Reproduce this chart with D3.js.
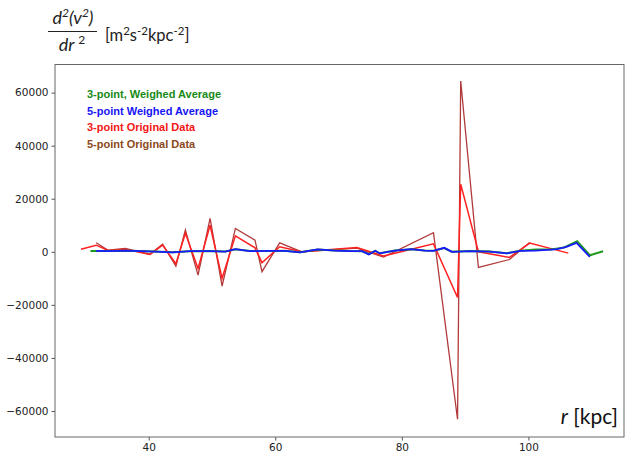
<!DOCTYPE html>
<html>
<head>
<meta charset="utf-8">
<script src="https://cdn.jsdelivr.net/npm/d3@7"></script>
<style>
  body { margin: 0; background: #fff; }
  svg { display: block; }
</style>
</head>
<body>
<script>
// r [kpc] of the original samples
var rRed = [29.3, 31.7, 33.6, 36.3, 40.2, 42.2, 44.3, 45.8, 47.8, 49.7, 51.6, 53.7, 56.8, 57.9, 60.7, 64.2, 72.9, 77.1, 85.0, 88.8, 89.3, 92.1, 97.0, 100.2, 106.3];
var redVals = [1000, 2500, 500, 1000, -1000, 2500, -4500, 7000, -6300, 10000, -10000, 6000, 1500, -4100, 1900, 0, 1600, -1600, 3000, -17200, 25500, 0, -2100, 3300, -500];

var rBrown = [31.7, 33.6, 36.3, 40.2, 42.2, 44.3, 45.8, 47.8, 49.7, 51.6, 53.7, 56.8, 57.9, 60.7, 64.2, 72.9, 77.1, 85.0, 88.8, 89.3, 92.1, 97.0, 100.2];
var brownVals = [3400, 600, 1300, -900, 2900, -5400, 8200, -8800, 12600, -12900, 8800, 4400, -7500, 3400, 0, 1400, -2000, 7200, -63100, 64400, -5900, -2900, 3500];

var rBlue = [31.7, 33.9, 36.3, 38.6, 41.0, 43.8, 46.5, 49.7, 52.1, 53.7, 56.0, 59.2, 61.5, 63.9, 66.7, 69.4, 71.8, 73.7, 74.8, 75.8, 76.5, 78.9, 81.5, 83.6, 85.0, 86.7, 87.9, 90.8, 93.9, 96.6, 98.7, 101.1, 103.5, 104.5, 106.0, 107.6, 109.7];
var blueVals = [380, 260, 450, 260, 75, -230, 260, 260, 75, 1000, 260, 380, 380, -230, 900, 450, 260, 260, -980, 380, -600, 450, 1000, 450, 380, 1500, 0, 260, 75, -600, 380, 450, 800, 1000, 1900, 3400, -1900];

var rGreen = [30.8, 31.7, 33.9, 36.3, 38.6, 41.0, 43.8, 46.5, 49.7, 52.1, 53.7, 56.0, 59.2, 61.5, 63.9, 66.7, 69.4, 71.8, 73.7, 74.8, 75.8, 76.5, 78.9, 81.5, 83.6, 85.0, 86.7, 87.9, 90.8, 93.9, 96.6, 98.7, 101.1, 103.5, 105.5, 107.7, 109.7, 111.8];
var greenVals = [300, 350, 300, 400, 280, 100, -200, 250, 280, 100, 950, 280, 350, 380, -200, 850, 450, 280, 250, -900, 350, -550, 450, 950, 450, 400, 1400, 50, 280, 100, -500, 400, 900, 900, 1500, 4000, -1300, 200];

var yTicks = [-60000, -40000, -20000, 0, 20000, 40000, 60000];
var xTicks = [40, 60, 80, 100];

var legendItems = ["3-point, Weighed Average", "5-point Weighed Average", "3-point Original Data", "5-point Original Data"];
var legendColors = ["#178a17", "#1515f5", "#f51515", "#8b4a1c"];

var width = 625, height = 455;
var plot = {left: 55, right: 624, top: 64.5, bottom: 437};

var svg = d3.select("body").append("svg")
	.attr("width", width)
	.attr("height", height);

var x = d3.scaleLinear()
	.domain([25.2, 115.1])
	.range([plot.left, plot.right]);

var y = d3.scaleLinear()
	.domain([-69800, 70600])
	.range([plot.bottom, plot.top]);

function pts(rs, vs) {
	return rs.map(function(r, i) { return [r, vs[i]]; });
}

var line = d3.line()
	.x(function(d) { return x(d[0]); })
	.y(function(d) { return y(d[1]); });

var g = svg.append("g");

g.append("path").datum(pts(rBrown, brownVals))
	.attr("d", line).attr("fill", "none")
	.attr("stroke", "#b03a3a").attr("stroke-width", 1.3);
g.append("path").datum(pts(rRed, redVals))
	.attr("d", line).attr("fill", "none")
	.attr("stroke", "#ff2020").attr("stroke-width", 1.5);
g.append("path").datum(pts(rGreen, greenVals))
	.attr("d", line).attr("fill", "none")
	.attr("stroke", "#1f9a1f").attr("stroke-width", 2);
g.append("path").datum(pts(rBlue, blueVals))
	.attr("d", line).attr("fill", "none")
	.attr("stroke", "#1a1aff").attr("stroke-width", 1.8);

// axes
var xAxis = svg.append("g")
	.attr("transform", "translate(0," + plot.bottom + ")")
	.call(d3.axisBottom(x).tickValues(xTicks).tickSize(3.5).tickPadding(3).tickFormat(d3.format("d")));
var yAxis = svg.append("g")
	.attr("transform", "translate(" + plot.left + ",0)")
	.call(d3.axisLeft(y).tickValues(yTicks).tickSize(3.5).tickPadding(3).tickFormat(d3.format("d")));

[xAxis, yAxis].forEach(function(a) {
	a.select(".domain").remove();
	a.selectAll(".tick line").attr("stroke", "#555");
	a.selectAll(".tick text")
		.attr("fill", "#222")
		.style("font-family", "DejaVu Sans")
		.style("font-size", "10.5px");
});
yAxis.selectAll(".tick text").text(function(d) { return d < 0 ? "\u2212" + Math.abs(d) : d; });

// frame
svg.append("rect")
	.attr("x", plot.left).attr("y", plot.top)
	.attr("width", plot.right - plot.left)
	.attr("height", plot.bottom - plot.top)
	.attr("fill", "none").attr("stroke", "#666").attr("stroke-width", 1);

// legend
svg.append("g").selectAll("text")
	.data(legendItems)
	.enter().append("text")
	.attr("x", 87)
	.attr("y", function(d, i) { return 98 + i * 16.7; })
	.attr("fill", function(d, i) { return legendColors[i]; })
	.style("font-family", "Liberation Sans, Arial, sans-serif")
	.style("font-weight", "bold")
	.style("font-size", "11px")
	.text(function(d) { return d; });

// y label as fraction
var title = svg.append("g").style("font-family", "Lato, 'Open Sans', sans-serif").attr("fill", "#222");
var num = title.append("text").attr("x", 73).attr("y", 24).attr("text-anchor", "middle")
	.style("font-size", "18px").style("font-style", "italic");
num.append("tspan").text("d");
num.append("tspan").attr("dy", -7).style("font-size", "12px").text("2");
num.append("tspan").attr("dy", 7).text("(v");
num.append("tspan").attr("dy", -7).style("font-size", "12px").text("2");
num.append("tspan").attr("dy", 7).text(")");
title.append("line").attr("x1", 48).attr("x2", 97).attr("y1", 31.5).attr("y2", 31.5)
	.attr("stroke", "#222").attr("stroke-width", 1.2);
var den = title.append("text").attr("x", 72).attr("y", 51).attr("text-anchor", "middle")
	.style("font-size", "18px").style("font-style", "italic");
den.append("tspan").text("dr ");
den.append("tspan").attr("dy", -7).style("font-size", "12px").style("font-style", "normal").text("2");

var unit = title.append("text").attr("x", 105).attr("y", 41).style("font-size", "16.5px");
unit.append("tspan").text("[m");
unit.append("tspan").attr("dy", -6).style("font-size", "11.5px").text("2");
unit.append("tspan").attr("dy", 6).text("s");
unit.append("tspan").attr("dy", -6).style("font-size", "11.5px").text("-2");
unit.append("tspan").attr("dy", 6).text("kpc");
unit.append("tspan").attr("dy", -6).style("font-size", "11.5px").text("-2");
unit.append("tspan").attr("dy", 6).text("]");

// x label
var xl = svg.append("text").attr("x", 618).attr("y", 424).attr("text-anchor", "end")
	.style("font-family", "Lato, 'Open Sans', sans-serif").style("font-size", "21px").attr("fill", "#111");
xl.append("tspan").style("font-style", "italic").text("r");
xl.append("tspan").text(" [kpc]");
</script>
</body>
</html>
